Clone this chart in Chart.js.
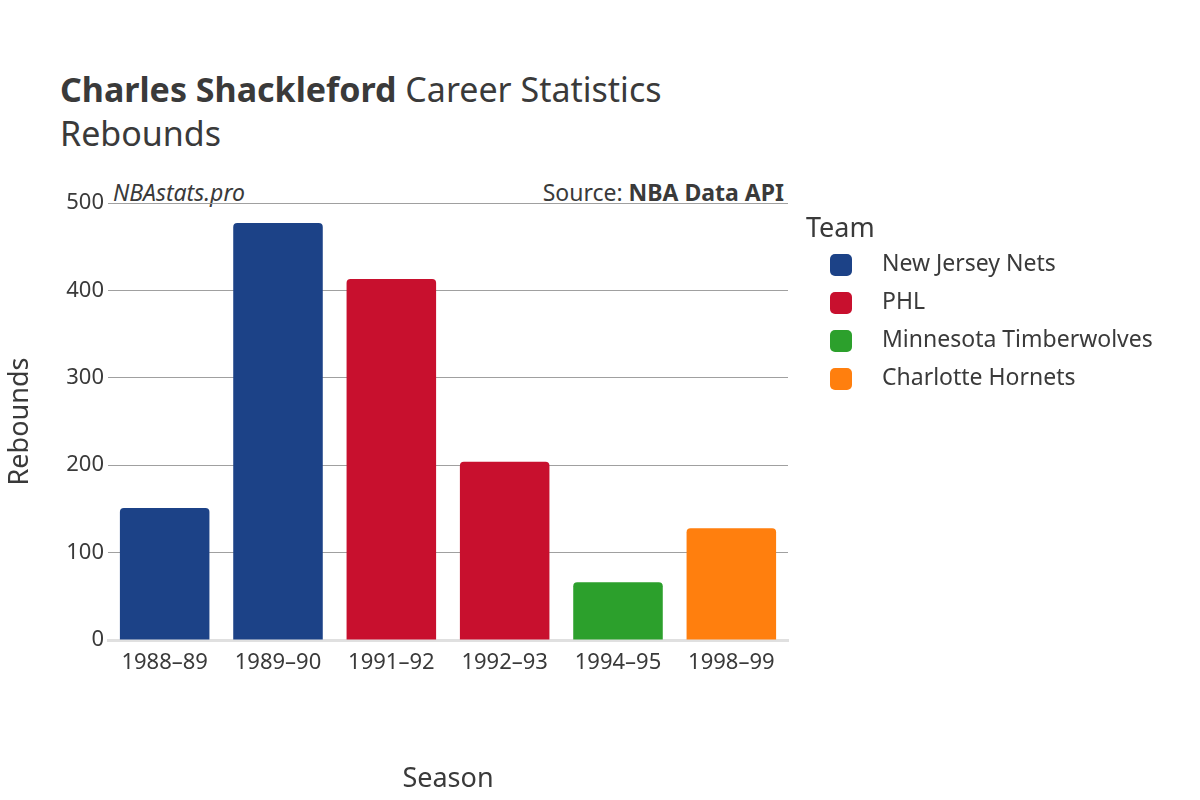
<!DOCTYPE html>
<html><head><meta charset="utf-8">
<script src="https://cdn.jsdelivr.net/npm/chart.js@4"></script>
<style>
body{margin:0;width:1200px;height:800px;background:#fff;font-family:"Noto Sans",sans-serif;color:#3a3a3a;position:relative;overflow:hidden}
.t{position:absolute;white-space:nowrap}
#wrap{position:absolute;left:0;top:0;width:1200px;height:800px}
.sw{position:absolute;width:22px;height:22px;border-radius:5px}
</style></head><body>
<div class="t" style="left:60px;top:66px;font-size:34px"><b>Charles Shackleford</b> Career Statistics</div>
<div class="t" style="left:60px;top:110px;font-size:34px">Rebounds</div>
<div class="t" style="left:113px;top:176px;font-size:23px;font-style:italic">NBAstats.pro</div>
<div class="t" style="right:416px;top:176px;font-size:23px">Source: <b>NBA Data API</b></div>
<div id="wrap"><canvas id="c" width="1200" height="800"></canvas></div>
<div class="t" style="left:806px;top:208px;font-size:27px">Team</div>
<div id="leg"></div>
<script>
const seasons=["1988–89","1989–90","1991–92","1992–93","1994–95","1998–99"];
const teams=["New Jersey Nets","PHL","Minnesota Timberwolves","Charlotte Hornets"];
const colors=["#1c4287","#c8102e","#2ca02c","#ff7f0e"];
const rebounds=[151,477,413,204,66,128];
const teamOf=[0,0,1,1,2,3];
const leg=document.getElementById('leg');
teams.forEach((t,i)=>{const y=254+i*38;
leg.insertAdjacentHTML('beforeend',`<div class="sw" style="left:830px;top:${y}px;background:${colors[i]}"></div><div class="t" style="left:882px;top:${y-8}px;font-size:23px">${t}</div>`);});
const datasets=teams.map((t,i)=>({label:t,backgroundColor:colors[i],data:rebounds.map((v,j)=>teamOf[j]===i?v:null),borderRadius:{topLeft:4,topRight:4},borderSkipped:'bottom',categoryPercentage:1,barPercentage:0.79}));
new Chart(document.getElementById('c'),{type:'bar',data:{labels:seasons,datasets},
options:{responsive:false,animation:false,devicePixelRatio:1,
layout:{padding:{left:0,top:203,right:412,bottom:0}},
plugins:{legend:{display:false},tooltip:{enabled:false}},
scales:{
x:{stacked:true,afterFit:s=>{s.height=160},grid:{display:false},border:{color:'#e0e0e0',width:3},
ticks:{color:'#3a3a3a',font:{family:'Noto Sans',size:22},padding:2,maxRotation:0},
title:{display:true,text:'Season',color:'#3a3a3a',font:{family:'Noto Sans',size:27},padding:{top:22}}},
y:{stacked:true,min:0,max:500,afterFit:s=>{s.width=108},
ticks:{stepSize:100,color:'#3a3a3a',font:{family:'Noto Sans',size:22},padding:4},
grid:{color:'#a0a0a0',drawTicks:false},border:{display:false},
title:{display:true,text:'Rebounds',color:'#3a3a3a',font:{family:'Noto Sans',size:27},padding:{bottom:18}}}}}});
</script></body></html>
